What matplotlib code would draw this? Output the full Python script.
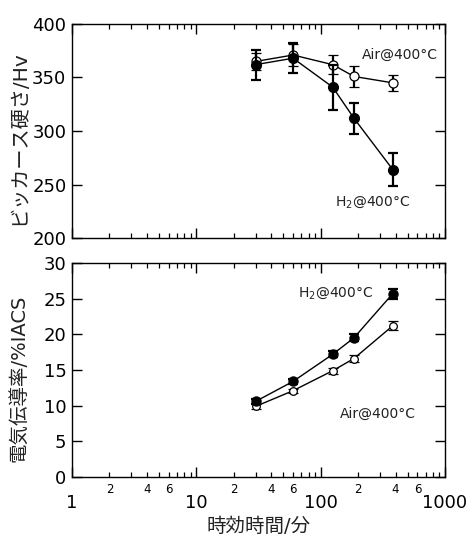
import numpy as np
import matplotlib
matplotlib.use("Agg")
import matplotlib.pyplot as plt
from matplotlib.ticker import LogLocator, FixedLocator, FixedFormatter, NullFormatter
from matplotlib.transforms import Bbox, TransformedBbox

plt.rcParams["font.family"] = ["DejaVu Sans", "Noto Sans CJK JP"]

# ---- data -------------------------------------------------------------------
t_min = [30, 60, 125, 185, 380]                       # aging time [min]

hv_air     = [365, 371, 362, 351, 345]
hv_air_err = [8, 10, 9, 9.5, 7.5]
hv_h2      = [362, 368, 341, 312, 264]
hv_h2_err  = [14, 14, 21, 14.5, 15.5]

ec_h2      = [10.6, 13.4, 17.2, 19.5, 25.7]
ec_h2_err  = [0.4, 0.4, 0.4, 0.5, 0.7]
ec_air     = [9.9, 12.1, 14.9, 16.6, 21.2]
ec_air_err = [0.4, 0.3, 0.4, 0.5, 0.6]

minor_vals = [2, 4, 6, 20, 40, 60, 200, 400, 600]
minor_labels = ["2", "4", "6"] * 3

fig = plt.figure(figsize=(4.72, 5.39), dpi=100)
axT = fig.add_axes([0.1525, 0.5584, 0.7903, 0.3971])
axB = fig.add_axes([0.1525, 0.1150, 0.7903, 0.3971])

def minor_texts(ax):
    out = []
    for v, lab in zip(minor_vals, minor_labels):
        out.append(ax.annotate(lab, xy=(v, 0), xycoords=("data", "axes fraction"),
                               xytext=(0, -4), textcoords="offset points",
                               ha="center", va="top", fontsize=8.5,
                               annotation_clip=False))
    return out

def style(ax, show_x):
    ax.set_xscale("log")
    ax.set_xlim(1, 1000)
    ax.xaxis.set_major_locator(FixedLocator([1, 10, 100, 1000]))
    ax.xaxis.set_minor_locator(LogLocator(base=10, subs=np.arange(2, 10), numticks=12))
    ax.xaxis.set_minor_formatter(NullFormatter())
    ax.tick_params(which="both", direction="in", top=True, right=True, color="black")
    ax.tick_params(which="major", length=7, width=1.0, labelsize=13, pad=12)
    ax.tick_params(which="minor", length=3.6, width=0.9)
    ax.tick_params(axis="y", which="major", pad=4)
    for s in ax.spines.values():
        s.set_linewidth(1.0)
        s.set_color("black")
    if show_x:
        ax.xaxis.set_major_formatter(FixedFormatter(["1", "10", "100", "1000"]))
    else:
        ax.set_xticklabels([])

style(axT, False)
style(axB, True)

minor_texts(axB)
# the top panel's minor labels are mostly hidden under the lower panel
clip = TransformedBbox(Bbox([[0, 0.5455], [1, 0.5584]]), fig.transFigure)
for t in minor_texts(axT):
    t.set_clip_box(clip)
    t.set_clip_on(True)

eb = dict(color="black", lw=1.0, elinewidth=1.6, capsize=3.8, capthick=1.6)

# top: Vickers hardness
axT.errorbar(t_min, hv_air, yerr=hv_air_err, marker="o", ms=6.5, mfc="white",
             mec="black", mew=0.9, zorder=3, **eb)
axT.errorbar(t_min, hv_h2, yerr=hv_h2_err, marker="o", ms=7, mfc="black",
             mec="black", zorder=4, **eb)
axT.set_ylim(200, 400)
axT.set_yticks([200, 250, 300, 350, 400])
axT.set_ylabel("ビッカース硬さ/Hv", fontsize=14.5, color="#222")
axT.yaxis.set_label_coords(-0.118, 0.47)
axT.text(215, 371, "Air@400°C", fontsize=10, va="center", ha="left", color="#222")
axT.text(131, 234, "H$_2$@400°C", fontsize=10, va="center", ha="left", color="#222")

# bottom: electrical conductivity
axB.errorbar(t_min, ec_air, yerr=ec_air_err, marker="o", ms=5.5, mfc="white",
             mec="black", mew=0.9, zorder=3, **eb)
axB.errorbar(t_min, ec_h2, yerr=ec_h2_err, marker="o", ms=6.5, mfc="black",
             mec="black", zorder=4, **eb)
axB.set_ylim(0, 30)
axB.set_yticks([0, 5, 10, 15, 20, 25, 30])
axB.set_ylabel("電気伝導率/%IACS", fontsize=14, color="#222")
axB.yaxis.set_label_coords(-0.118, 0.46)
axB.text(66, 25.75, "H$_2$@400°C", fontsize=10, va="center", ha="left", color="#222")
axB.text(143, 8.9, "Air@400°C", fontsize=10, va="center", ha="left", color="#222")
axB.set_xlabel("時効時間/分", fontsize=14, color="#222", labelpad=4)

fig.savefig("out.png", dpi=100)
